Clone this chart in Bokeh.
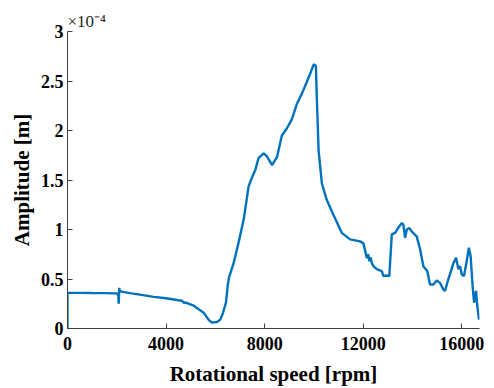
from bokeh.plotting import figure
from bokeh.models import FixedTicker, CustomJSTickFormatter, Range1d, Title
from bokeh.embed import file_html
from bokeh.resources import INLINE

# Rotational speed [rpm]
rpm = [0, 0, 500, 1000, 1500, 2000, 2060, 2080, 2100, 2120, 2230, 2600, 3000,
       3500, 4000, 4500, 4650, 4720, 4800, 5120, 5525, 5730, 5860, 6070, 6200,
       6300, 6430, 6510, 6560, 6740, 6940, 7150, 7350, 7480, 7620, 7750, 7960,
       8090, 8300, 8500, 8700, 8900, 9100, 9310, 9510, 9710, 9850, 9980, 10010,
       10080, 10120, 10190, 10320, 10520, 10790, 11130, 11470, 11875, 12010,
       12150, 12200, 12250, 12300, 12350, 12415, 12550, 12755, 12820, 12890,
       13060, 13160, 13295, 13430, 13565, 13630, 13700, 13770, 13870, 13970,
       14170, 14310, 14440, 14600, 14710, 14850, 14985, 15120, 15250, 15320,
       15450, 15520, 15660, 15770, 15860, 15930, 16000, 16090, 16200, 16290,
       16360, 16440, 16500, 16580, 16630, 16700]
# Amplitude [x 1e-4 m]
amp = [0.0, 0.36, 0.36, 0.358, 0.357, 0.355, 0.34, 0.25, 0.41, 0.38, 0.37,
       0.355, 0.34, 0.32, 0.305, 0.285, 0.28, 0.26, 0.262, 0.23, 0.16, 0.087,
       0.06, 0.065, 0.09, 0.15, 0.26, 0.45, 0.52, 0.66, 0.865, 1.10, 1.435,
       1.52, 1.60, 1.72, 1.77, 1.74, 1.65, 1.73, 1.95, 2.02, 2.11, 2.27, 2.37,
       2.49, 2.575, 2.66, 2.67, 2.65, 2.31, 1.80, 1.47, 1.30, 1.15, 0.966, 0.90,
       0.88, 0.86, 0.71, 0.75, 0.68, 0.72, 0.66, 0.63, 0.60, 0.58, 0.53, 0.535,
       0.53, 0.95, 0.965, 1.02, 1.065, 1.05, 0.915, 1.00, 1.015, 0.98, 0.93,
       0.80, 0.63, 0.58, 0.445, 0.445, 0.485, 0.46, 0.395, 0.38, 0.495, 0.546,
       0.66, 0.715, 0.60, 0.63, 0.546, 0.53, 0.68, 0.815, 0.73, 0.43, 0.26,
       0.38, 0.23, 0.09]

x_ticks = [0, 4000, 8000, 12000, 16000]
y_ticks = [0, 0.5, 1, 1.5, 2, 2.5, 3]

p = figure(width=494, height=388, output_backend="svg", toolbar_location=None,
           x_range=Range1d(0, 16720), y_range=Range1d(0, 3),
           min_border_left=67, min_border_top=31, min_border_right=15,
           min_border_bottom=59)
p.outline_line_color = None
p.xgrid.visible = False
p.ygrid.visible = False
p.background_fill_color = "white"
p.border_fill_color = "white"

p.line(rpm, amp, line_color="#0072BD", line_width=2.4)

for ax in (p.xaxis[0], p.yaxis[0]):
    ax.axis_line_color = "#404040"
    ax.axis_line_width = 1
    ax.major_tick_line_color = "#404040"
    ax.major_tick_in = 5
    ax.major_tick_out = 0
    ax.minor_tick_line_color = None
    ax.major_label_text_font = "Liberation Serif"
    ax.major_label_text_font_style = "bold"
    ax.major_label_text_font_size = "18px"
    ax.major_label_text_color = "black"
    ax.axis_label_text_font = "Liberation Serif"
    ax.axis_label_text_font_style = "bold"
    ax.axis_label_text_font_size = "21px"
    ax.axis_label_text_color = "black"

p.xaxis.ticker = FixedTicker(ticks=x_ticks)
p.yaxis.ticker = FixedTicker(ticks=y_ticks)
p.yaxis.formatter = CustomJSTickFormatter(code="return String(+tick.toFixed(2));")
p.xaxis.axis_label = "Rotational speed [rpm]"
p.yaxis.axis_label = "Amplitude [m]"
p.xaxis.major_label_standoff = 8
p.yaxis.major_label_standoff = 4
p.xaxis.axis_label_standoff = 9
p.yaxis.axis_label_standoff = 4

t = Title(text="×10⁻⁴", align="left", text_font="Liberation Serif",
          text_font_size="17px", text_font_style="normal",
          text_color="#262626", standoff=2, offset=0)
p.add_layout(t, "above")

open("out.html", "w").write(file_html(p, INLINE))
